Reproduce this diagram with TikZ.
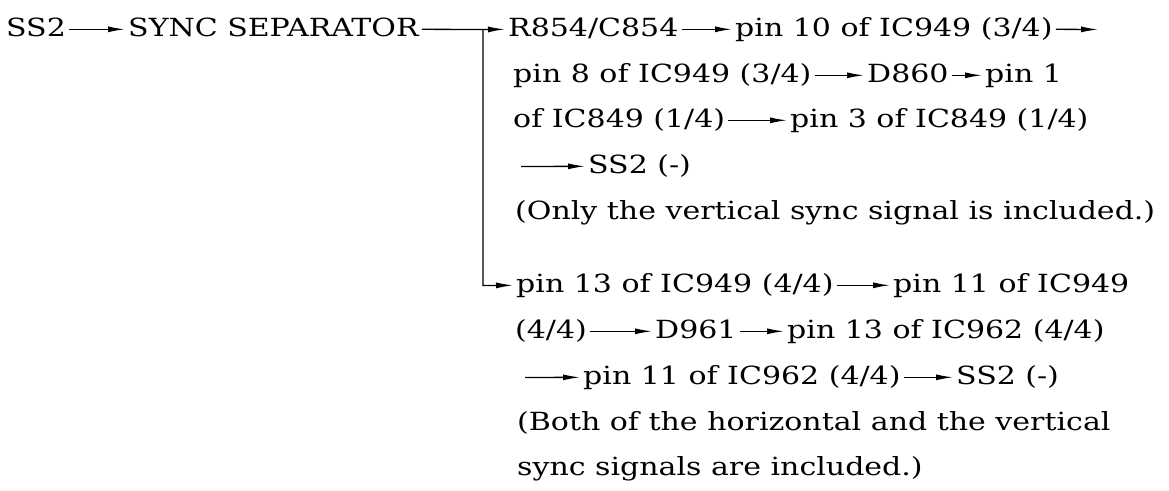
\documentclass[tikz,border=0pt]{standalone}
\usepackage{fontspec}
\setmainfont{DejaVu Serif}[FakeStretch=1.2]
\usetikzlibrary{arrows.meta}
\begin{document}
\begin{tikzpicture}[x=1pt,y=-1pt,
  lbl/.style={inner sep=0pt, text height=15pt, text depth=0pt, anchor=south west,
    font=\fontsize{25}{30}\selectfont},
  arr/.style={line width=1.3pt, -{Latex[length=17pt,width=6pt]}, shorten <=3pt, shorten >=3pt},
  ln/.style={line width=1.3pt}]
\useasboundingbox (0,0) rectangle (1169,490);
% line 1
\node[lbl] (ss2) at (6,37) {SS2};
\node[lbl] (sep) at (128,37) {SYNC SEPARATOR};
\node[lbl] (r854) at (508,37) {R854/C854};
\node[lbl] (p10) at (735,37) {pin 10 of IC949 (3/4)};
\coordinate (e1) at (1101,29.5);
\coordinate (j1) at (483,29.5);
% line 2
\node[lbl] (p8) at (513,83) {pin 8 of IC949 (3/4)};
\node[lbl] (d860) at (867,83) {D860};
\node[lbl] (p1) at (985,83) {pin 1};
% line 3
\node[lbl] (of849) at (513,128) {of IC849 (1/4)};
\node[lbl] (p3) at (790,128) {pin 3 of IC849 (1/4)};
% line 4
\coordinate (s4) at (518,166.5);
\node[lbl] (ss2a) at (588,174) {SS2 (-)};
% line 5
\node[lbl] (only) at (515,220) {(Only the vertical sync signal is included.)};
% line 6
\coordinate (j2) at (483,285.5);
\node[lbl] (p13) at (516,293) {pin 13 of IC949 (4/4)};
\node[lbl] (p11) at (893,293) {pin 11 of IC949};
% line 7
\node[lbl] (q44) at (515,339) {(4/4)};
\node[lbl] (d961) at (655,339) {D961};
\node[lbl] (p13b) at (787,339) {pin 13 of IC962 (4/4)};
% line 8
\coordinate (s8) at (522,377.5);
\node[lbl] (p11b) at (583,385) {pin 11 of IC962 (4/4)};
\node[lbl] (ss2b) at (956,385) {SS2 (-)};
% line 9, 10
\node[lbl] (both) at (517,431) {(Both of the horizontal and the vertical};
\node[lbl] (sync) at (517,476) {sync signals are included.)};
% connectors
\draw[arr] (ss2.east) -- (sep.west);
\draw[arr] (sep.east) -- (j1) -- (r854.west);
\draw[arr] (r854.east) -- (p10.west);
\draw[arr] (p10.east) -- (e1);
\draw[arr] (p8.east) -- (d860.west);
\draw[arr] (d860.east) -- (p1.west);
\draw[arr] (of849.east) -- (p3.west);
\draw[arr] (s4) -- (ss2a.west);
\draw[arr, shorten <=0pt] (j1) -- (j2) -- (p13.west);
\draw[arr] (p13.east) -- (p11.west);
\draw[arr] (q44.east) -- (d961.west);
\draw[arr] (d961.east) -- (p13b.west);
\draw[arr] (s8) -- (p11b.west);
\draw[arr] (p11b.east) -- (ss2b.west);
\end{tikzpicture}
\end{document}
